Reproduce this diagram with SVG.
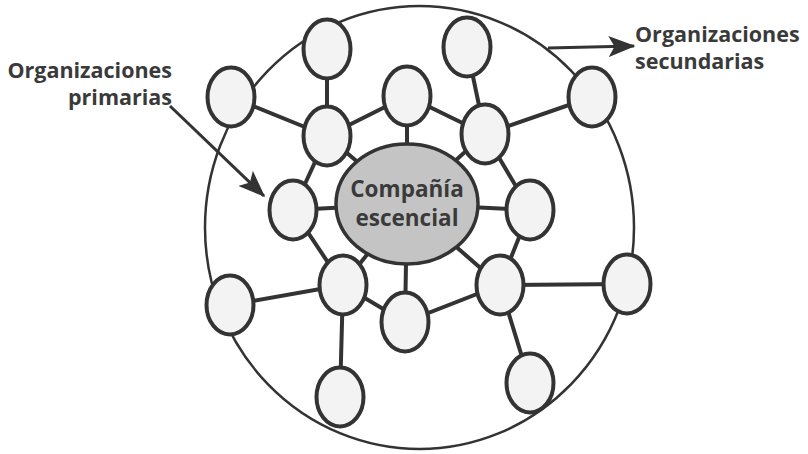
<svg xmlns="http://www.w3.org/2000/svg" width="808" height="454" viewBox="0 0 808 454">
  <style>
    .edge { stroke: #333; stroke-width: 4; fill: none; stroke-linecap: round; }
    .node { fill: #f3f3f3; stroke: #333; stroke-width: 4; }
    .ring { fill: none; stroke: #333; stroke-width: 2.5; }
    .lbl { font-family: "Open Sans", "Noto Sans", sans-serif; font-weight: bold; font-size: 21.5px; fill: #3a3a3a; }
    .ctr { font-family: "Open Sans", "Noto Sans", sans-serif; font-weight: bold; font-size: 22.5px; fill: #3a3a3a; }
    .arrow { stroke: #333; stroke-width: 3; fill: none; }
  </style>
  <defs>
    <marker id="ah" markerWidth="9" markerHeight="7" refX="8.5" refY="3.5" orient="auto" markerUnits="strokeWidth">
      <path d="M0,0 L9,3.5 L0,7 L2,3.5 Z" fill="#333"/>
    </marker>
  </defs>
  <rect width="808" height="454" fill="#ffffff"/>

  <ellipse id="outer-ring" class="ring" cx="419.5" cy="227.5" rx="214.5" ry="221.5"/>

  <g id="connectors">
    <line class="edge" x1="231" y1="97" x2="327" y2="136"/>
    <line class="edge" x1="327" y1="51" x2="327" y2="136"/>
    <line class="edge" x1="467" y1="48" x2="485" y2="134"/>
    <line class="edge" x1="592" y1="97" x2="485" y2="134"/>
    <line class="edge" x1="627" y1="284" x2="500" y2="285"/>
    <line class="edge" x1="530" y1="383" x2="500" y2="285"/>
    <line class="edge" x1="340" y1="397" x2="343" y2="285"/>
    <line class="edge" x1="230" y1="305" x2="343" y2="285"/>
    <polygon class="edge" points="327,136 407,96 485,134 530,210 500,285 405,322 343,285 293,210"/>
    <line class="edge" x1="407" y1="204" x2="327" y2="136"/>
    <line class="edge" x1="407" y1="204" x2="407" y2="96"/>
    <line class="edge" x1="407" y1="204" x2="485" y2="134"/>
    <line class="edge" x1="407" y1="204" x2="530" y2="210"/>
    <line class="edge" x1="407" y1="204" x2="500" y2="285"/>
    <line class="edge" x1="407" y1="204" x2="405" y2="322"/>
    <line class="edge" x1="407" y1="204" x2="343" y2="285"/>
    <line class="edge" x1="407" y1="204" x2="293" y2="210"/>
    <line class="arrow" x1="170" y1="106" x2="264" y2="196" marker-end="url(#ah)"/>
    <line class="arrow" x1="548" y1="48" x2="634" y2="46" marker-end="url(#ah)"/>
  </g>

  <g id="center">
    <ellipse cx="407" cy="204" rx="71" ry="60" fill="#c4c4c4" stroke="#333" stroke-width="3.5"/>
    <text class="ctr" x="407" y="197" text-anchor="middle">Compañía</text>
    <text class="ctr" x="407" y="226" text-anchor="middle">escencial</text>
  </g>

  <g id="inner-tl"><ellipse class="node" cx="327" cy="136" rx="23.5" ry="29.5"/></g>
  <g id="inner-t"><ellipse class="node" cx="407" cy="96" rx="23.5" ry="29.5"/></g>
  <g id="inner-tr"><ellipse class="node" cx="485" cy="134" rx="23.5" ry="29.5"/></g>
  <g id="inner-r"><ellipse class="node" cx="530" cy="210" rx="23.5" ry="29.5"/></g>
  <g id="inner-br"><ellipse class="node" cx="500" cy="285" rx="23.5" ry="29.5"/></g>
  <g id="inner-b"><ellipse class="node" cx="405" cy="322" rx="23.5" ry="29.5"/></g>
  <g id="inner-bl"><ellipse class="node" cx="343" cy="285" rx="23.5" ry="29.5"/></g>
  <g id="inner-l"><ellipse class="node" cx="293" cy="210" rx="23.5" ry="29.5"/></g>

  <g id="outer-a"><ellipse class="node" cx="231" cy="97" rx="23.5" ry="29.5"/></g>
  <g id="outer-b"><ellipse class="node" cx="327" cy="49" rx="23.5" ry="29.5"/></g>
  <g id="outer-c"><ellipse class="node" cx="467" cy="47" rx="23.5" ry="29.5"/></g>
  <g id="outer-d"><ellipse class="node" cx="592" cy="97" rx="23.5" ry="29.5"/></g>
  <g id="outer-e"><ellipse class="node" cx="627" cy="284" rx="23.5" ry="29.5"/></g>
  <g id="outer-f"><ellipse class="node" cx="530" cy="383" rx="23.5" ry="29.5"/></g>
  <g id="outer-g"><ellipse class="node" cx="340" cy="397" rx="23.5" ry="29.5"/></g>
  <g id="outer-h"><ellipse class="node" cx="230" cy="305" rx="23.5" ry="29.5"/></g>

  <g id="label-primarias">
    <text class="lbl" x="172" y="78" text-anchor="end">Organizaciones</text>
    <text class="lbl" x="172" y="105" text-anchor="end">primarias</text>
  </g>
  <g id="label-secundarias">
    <text class="lbl" x="635" y="42">Organizaciones</text>
    <text class="lbl" x="635" y="69">secundarias</text>
  </g>
</svg>
